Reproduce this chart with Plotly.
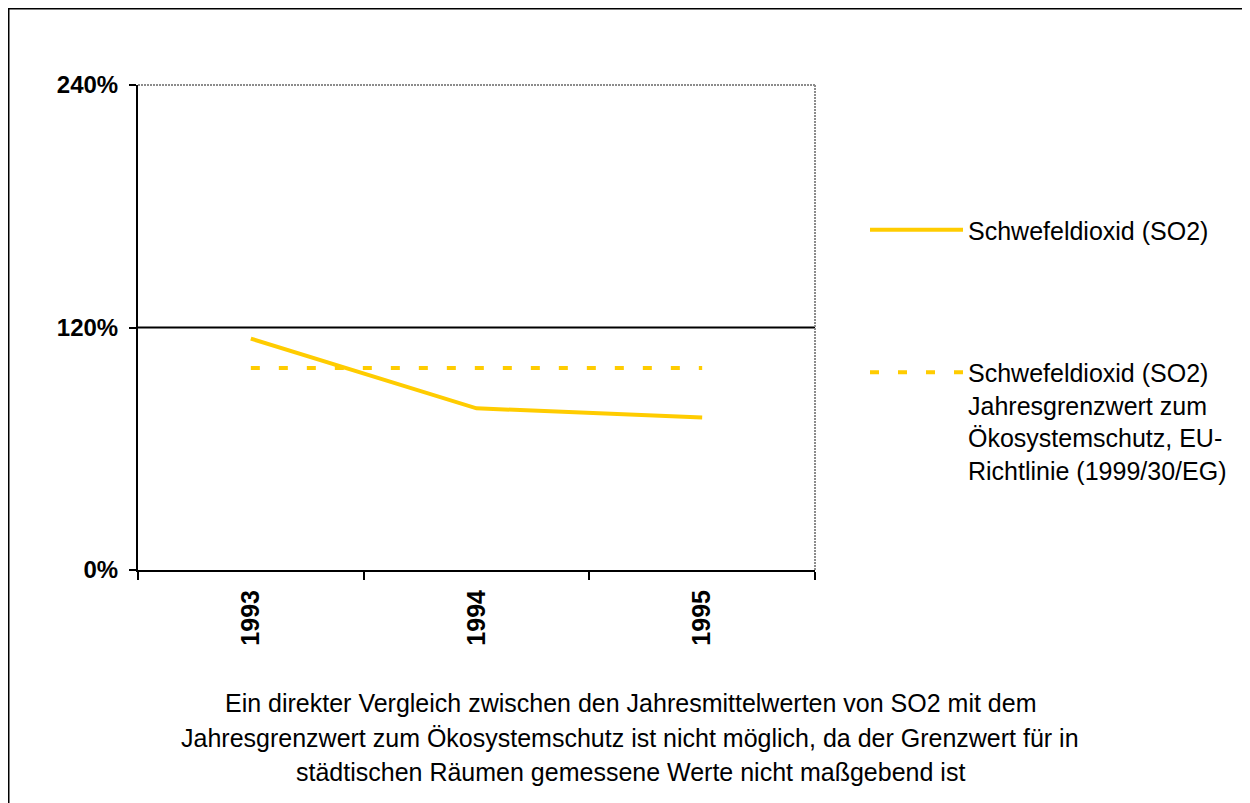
import plotly.graph_objects as go

years = ["1993", "1994", "1995"]
so2_values = [114.5, 80.0, 75.5]
limit_values = [100.0, 100.0, 100.0]
y_ticks = [0, 120, 240]
y_tick_labels = ["0%", "120%", "240%"]
series_names = [
    "Schwefeldioxid (SO2)",
    "Schwefeldioxid (SO2)<br>Jahresgrenzwert zum<br>Ökosystemschutz, EU-<br>Richtlinie (1999/30/EG)",
]
footer_lines = [
    "Ein direkter Vergleich zwischen den Jahresmittelwerten von SO2 mit dem",
    "Jahresgrenzwert zum Ökosystemschutz ist nicht möglich, da der Grenzwert für in",
    "städtischen Räumen gemessene Werte nicht maßgebend ist",
]

# the page body adds an 8px margin, so figure pixel = page pixel - 8
OFF = 8
W, H = 1250 - OFF, 803 - OFF
L, R, T, B = 138 - OFF, 815 - OFF, 85 - OFF, 570 - OFF
PW, PH = R - L, B - T


def px_x(x):
    return (x - OFF - L) / PW


def px_y(y):
    return (B - (y - OFF)) / PH


YELLOW = "#FFCC00"
FONT = "Arial, Liberation Sans, sans-serif"

fig = go.Figure()
fig.add_trace(go.Scatter(
    x=years, y=so2_values, mode="lines", name=series_names[0],
    line=dict(color=YELLOW, width=4), legendgroup="a",
))
fig.add_trace(go.Scatter(
    x=years, y=limit_values, mode="lines", name=series_names[1],
    line=dict(color=YELLOW, width=4, dash="9px,19px"), legendgroup="b",
))

shapes = [
    # gridline at 120 %
    dict(type="line", xref="paper", yref="y", x0=0, x1=1, y0=y_ticks[1], y1=y_ticks[1],
         line=dict(color="black", width=2), layer="below"),
    # dotted plot border top & right
    dict(type="line", xref="paper", yref="paper", x0=0, x1=1, y0=1, y1=1,
         line=dict(color="#8c8c8c", width=2, dash="2px,1px")),
    dict(type="line", xref="paper", yref="paper", x0=1, x1=1, y0=0, y1=1,
         line=dict(color="#8c8c8c", width=2, dash="2px,1px")),
    # outer chart frame (left & top)
    dict(type="line", xref="paper", yref="paper", x0=px_x(8), x1=px_x(1260), y0=px_y(8.5), y1=px_y(8.5),
         line=dict(color="black", width=2)),
    dict(type="line", xref="paper", yref="paper", x0=px_x(8.5), x1=px_x(8.5), y0=px_y(8), y1=px_y(820),
         line=dict(color="black", width=2)),
]

annotations = []
for text, yc in zip(footer_lines, [703, 738, 772]):
    annotations.append(dict(
        text=text, xref="paper", yref="paper", x=px_x(630), y=px_y(yc),
        xanchor="center", yanchor="middle", showarrow=False,
        font=dict(family=FONT, size=25, color="black"),
    ))

fig.update_layout(
    width=W, height=H, autosize=False,
    margin=dict(l=L, r=W - R, t=T, b=H - B, pad=0),
    paper_bgcolor="white", plot_bgcolor="white",
    font=dict(family=FONT, color="black"),
    shapes=shapes, annotations=annotations,
    showlegend=True,
    legend=dict(
        x=px_x(865), y=px_y(207), xanchor="left", yanchor="top",
        font=dict(family=FONT, size=25, color="black"),
        tracegroupgap=107, valign="top", bgcolor="rgba(0,0,0,0)",
        itemwidth=93,
    ),
    xaxis=dict(
        type="category", range=[-0.5, 2.5], showgrid=False, zeroline=False,
        showline=True, linecolor="black", linewidth=2,
        ticks="outside", tickson="boundaries", ticklen=8, tickcolor="black", tickwidth=2,
        tickangle=-90, ticklabelstandoff=8,
        tickfont=dict(family=FONT, size=25, color="black", weight="bold"),
    ),
    yaxis=dict(
        range=[0, 240], tickmode="array", tickvals=y_ticks, ticktext=y_tick_labels,
        showgrid=False, zeroline=False,
        showline=True, linecolor="black", linewidth=2,
        ticks="outside", ticklen=7, tickcolor="black", tickwidth=2,
        ticklabelstandoff=6,
        tickfont=dict(family=FONT, size=24, color="black", weight="bold"),
    ),
)

fig.write_html("out.html")
